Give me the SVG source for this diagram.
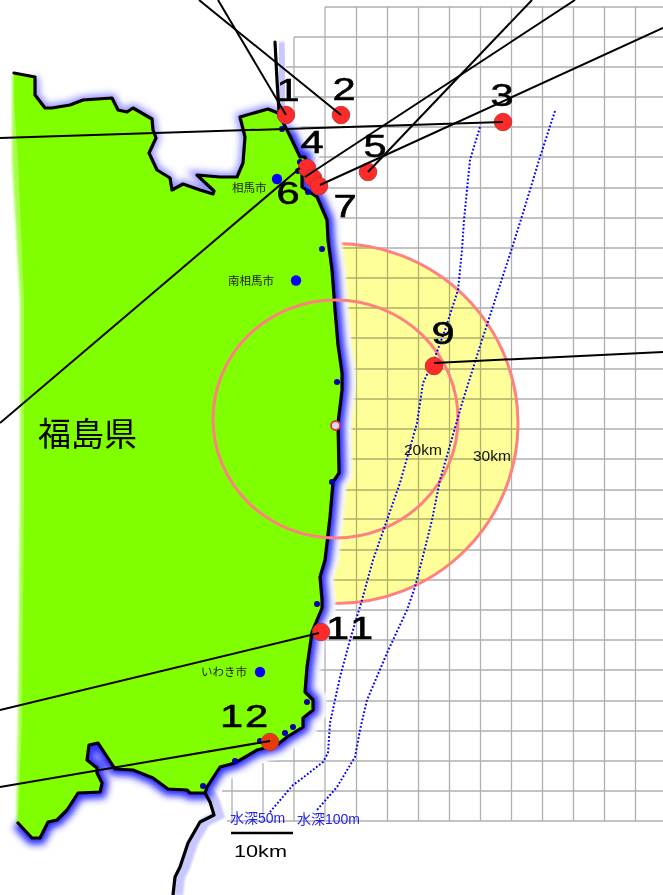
<svg xmlns="http://www.w3.org/2000/svg" xmlns:xlink="http://www.w3.org/1999/xlink" width="663" height="895" viewBox="0 0 663 895">
<style>
.grid{stroke:#b0b0b0;stroke-width:1.3;fill:none}
.coast{fill:none;stroke:#000;stroke-width:3.2;stroke-linejoin:round;stroke-linecap:round}
.depth{fill:none;stroke:#0000ff;stroke-width:2;stroke-dasharray:1.8 2}
.ring{fill:none;stroke:#ff8080;stroke-width:3}
.line{stroke:#000;stroke-width:2;fill:none}
.pt{fill:#ff2a2a;stroke:#a33;stroke-width:.8}
.num{font-family:"Liberation Sans",Arial,sans-serif;font-size:32px;text-anchor:middle;fill:#000;stroke:#000;stroke-width:.6}
.dot{fill:#0000aa}
.city{fill:#0000ff}
.cn{font-family:"Noto Sans CJK JP",sans-serif;font-size:11.5px;fill:#222}
.km{font-family:"Liberation Sans",Arial,sans-serif;font-size:15.500px;fill:#111}
.dl{font-family:"Liberation Sans","Noto Sans CJK JP",sans-serif;font-size:14px;fill:#2222ee}
</style>
<defs>
<filter id="b4" x="-20%" y="-20%" width="140%" height="140%"><feGaussianBlur stdDeviation="3.500"/></filter>
<filter id="b1" x="-20%" y="-20%" width="140%" height="140%"><feGaussianBlur stdDeviation="1.2"/></filter>
<path id="coastnorth" d="M35,77 L35,95 L45,108 L52,108 L70,105 L83,100 L112,98 L118,110 L127,112 L133,108 L152,119 L153,130 L156,138 L149,153 L157,170 L170,178 L172,190 L183,184 L200,190 L213,194 L214,191 L197,175 L220,177 L237,177 L243,163 L245,137 L240,117 L268,109 L278,113 L287,130"/>
<path id="coasteast" d="M287,130 L300,157 L305,157 L306,162 L302,173 L302,187 L317,197 L327,220 L328,240 L332,270 L335,310 L338,345 L342,373 L342,390 L338,423 L339,473 L333,482 L330,517 L325,560 L320,577 L322,600 L322,608 L312,632 L307,667 L305,692 L313,700 L313,710 L303,718 L303,727 L287,737 L277,745 L257,750 L235,763 L220,767 L207,787 L205,793 L200,793 L190,793 L187,790 L168,789 L153,778 L133,770 L115,769 L98,743 L89,745 L87,760 L97,768 L97,773 L102,783 L100,792 L78,793 L67,810 L57,820 L48,822 L40,838 L32,838 L18,823"/>
<path id="coastline" d="M14,73 L35,77 L35,95 L45,108 L52,108 L70,105 L83,100 L112,98 L118,110 L127,112 L133,108 L152,119 L153,130 L156,138 L149,153 L157,170 L170,178 L172,190 L183,184 L200,190 L213,194 L214,191 L197,175 L220,177 L237,177 L243,163 L245,137 L240,117 L268,109 L278,113 L287,130 L300,157 L305,157 L306,162 L302,173 L302,187 L317,197 L327,220 L328,240 L332,270 L335,310 L338,345 L342,373 L342,390 L338,423 L339,473 L333,482 L330,517 L325,560 L320,577 L322,600 L322,608 L312,632 L307,667 L305,692 L313,700 L313,710 L303,718 L303,727 L287,737 L277,745 L257,750 L235,763 L220,767 L207,787 L205,793 L200,793 L190,793 L187,790 L168,789 L153,778 L133,770 L115,769 L98,743 L89,745 L87,760 L97,768 L97,773 L102,783 L100,792 L78,793 L67,810 L57,820 L48,822 L40,838 L32,838 L18,823"/>
<path id="northcape" d="M275,42 L277,80 L279,112"/>
<path id="southcoast" d="M205,793 L210,802 L214,815 L200,822 L188,843 L180,867 L175,877 L173,895"/>
</defs>
<rect width="663" height="895" fill="#fff"/>
<g id="grid" class="grid">
<path d="M325,7H663M294,37H663M286,67H663M294,97H663M294,127H663M294,157H663M294,188H663M294,218H663M294,248H663M294,278H663M294,308H663M294,338H663M294,369H663M294,399H663M294,429H663M294,459H663M294,490H663M294,519H663M294,550H663M294,580H663M294,610H663M294,640H663M294,670H663M294,701H663M294,731H663M267,761H663M222,791H663M227,821H663"/>
<path d="M232,778V821M263,763V821M294,37V821M325,7V821M356.500,7V821M387.500,7V821M418.500,7V821M449.500,7V821M480.500,7V821M511.500,7V821M542.500,7V821M573.500,7V821M604.500,7V821M635.500,7V821"/>
</g>
<g id="zone-30km">
<ellipse cx="336" cy="423.500" rx="182" ry="180" fill="#ffff99" style="mix-blend-mode:multiply"/>
<ellipse class="ring" cx="336" cy="423.500" rx="182" ry="180"/>
</g>
<g id="glow">
<use xlink:href="#coastline" href="#coastline" fill="none" stroke="#fff" stroke-width="27" filter="url(#b1)"/>
<use xlink:href="#northcape" href="#northcape" transform="translate(5,0)" fill="none" stroke="#c8c8ff" stroke-width="10" filter="url(#b1)"/>
<use xlink:href="#southcoast" href="#southcoast" transform="translate(5,0)" fill="none" stroke="#c8c8ff" stroke-width="10" filter="url(#b1)"/>
<use xlink:href="#coastnorth" href="#coastnorth" fill="none" stroke="#2a2aff" stroke-width="8" opacity=".55" filter="url(#b4)"/>
<use xlink:href="#coasteast" href="#coasteast" fill="none" stroke="#2a2aff" stroke-width="13" filter="url(#b4)"/>
</g>
<g id="land">
<path d="M12,75 L12,160 L20,300 L20,500 L18,720 L16,825 L26,825 L28,500 L28,300 L22,75Z" fill="#80ff00" opacity=".7" filter="url(#b1)"/>
<path d="M14,73 L35,77 L35,95 L45,108 L52,108 L70,105 L83,100 L112,98 L118,110 L127,112 L133,108 L152,119 L153,130 L156,138 L149,153 L157,170 L170,178 L172,190 L183,184 L200,190 L213,194 L214,191 L197,175 L220,177 L237,177 L243,163 L245,137 L240,117 L268,109 L278,113 L287,130 L300,157 L305,157 L306,162 L302,173 L302,187 L317,197 L327,220 L328,240 L332,270 L335,310 L338,345 L342,373 L342,390 L338,423 L339,473 L333,482 L330,517 L325,560 L320,577 L322,600 L322,608 L312,632 L307,667 L305,692 L313,700 L313,710 L303,718 L303,727 L287,737 L277,745 L257,750 L235,763 L220,767 L207,787 L205,793 L200,793 L190,793 L187,790 L168,789 L153,778 L133,770 L115,769 L98,743 L89,745 L87,760 L97,768 L97,773 L102,783 L100,792 L78,793 L67,810 L57,820 L48,822 L40,838 L32,838 L18,823 L22,720 L24,500 L24,300 L18,160 L14,100Z" fill="#80ff00"/>
<use xlink:href="#coastline" href="#coastline" class="coast"/>
<use xlink:href="#northcape" href="#northcape" class="coast"/>
<use xlink:href="#southcoast" href="#southcoast" class="coast"/>
</g>
<ellipse id="zone-20km" class="ring" cx="335.500" cy="419" rx="122.500" ry="119"/>
<g id="depth-contours">
<path class="depth" d="M480,127 L470,160 L464,220 L462,250 L458,290 L445,330 L434,360 L423,383 L417,423 L400,483 L387,520 L373,560 L362,600 L350,640 L340,677 L330,723 L328,753 L323,762 L300,780 L293,785 L270,812"/>
<path class="depth" d="M555,111 L540,157 L523,213 L512,248 L482,340 L463,400 L440,480 L432,520 L422,560 L415,587 L407,610 L387,653 L367,700 L360,730 L355,757 L337,787 L317,810"/>
</g>
<g id="small-dots" class="dot">
<circle cx="282" cy="129" r="3"/><circle cx="300" cy="162" r="3"/><circle cx="298" cy="171" r="3"/><circle cx="308" cy="192" r="3"/><circle cx="322" cy="249" r="3"/><circle cx="337" cy="382" r="3"/><circle cx="332" cy="482" r="3"/><circle cx="317" cy="604" r="3"/><circle cx="307" cy="702" r="3"/><circle cx="293" cy="727" r="3"/><circle cx="285" cy="733" r="3"/><circle cx="260" cy="741" r="3"/><circle cx="235" cy="761" r="3"/><circle cx="203" cy="786" r="3"/>
</g>
<g id="cities">
<g id="city-soma"><circle class="city" cx="277" cy="179" r="5.200"/><text class="cn" x="232" y="192">相馬市</text></g>
<g id="city-minamisoma"><circle class="city" cx="296" cy="280.500" r="5.200"/><text class="cn" x="228" y="285">南相馬市</text></g>
<g id="city-iwaki"><circle class="city" cx="260" cy="672" r="5.200"/><text class="cn" x="201" y="676">いわき市</text></g>
</g>
<g id="plant"><circle cx="335.500" cy="425.500" r="4.500" fill="#ddd" stroke="#e0305a" stroke-width="1.800"/></g>
<g id="markers">
<g id="m1"><circle class="pt" cx="286" cy="115" r="8.800"/></g>
<g id="m2"><circle class="pt" cx="341" cy="115" r="8.800"/></g>
<g id="m3"><circle class="pt" cx="503" cy="122" r="8.800"/></g>
<g id="m5"><circle class="pt" cx="368" cy="172" r="8.800"/></g>
<g id="m4"><circle class="pt" cx="307" cy="168" r="8.800"/></g>
<g id="m6"><circle class="pt" cx="313" cy="178" r="8.800"/></g>
<g id="m7"><circle class="pt" cx="319" cy="186" r="8.800"/></g>
<g id="m9"><circle class="pt" cx="434" cy="366" r="8.800"/></g>
<g id="m11"><circle class="pt" cx="321" cy="632" r="8.800"/></g>
<g id="m12"><circle class="pt" cx="270" cy="742" r="8.800" style="fill:#e83a10"/></g>
</g>
<g id="connectors" class="line">
<path d="M286,115L218,0"/><path d="M341,115L199,0"/><path d="M503,122L0,138"/><path d="M368,172L532,0"/><path d="M300,168L0,423"/><path d="M305,177L575,0"/><path d="M320,185L663,28"/><path d="M434,363L663,352"/><path d="M319,633L0,710"/><path d="M270,741L0,787"/>
</g>
<g id="labels">
<text class="num" transform="translate(288,101) scale(1.3,1)">1</text>
<text class="num" transform="translate(344,100) scale(1.3,1)">2</text>
<text class="num" transform="translate(502,106) scale(1.3,1)">3</text>
<text class="num" transform="translate(312,153) scale(1.3,1)">4</text>
<text class="num" transform="translate(375,157) scale(1.3,1)">5</text>
<text class="num" transform="translate(288,204) scale(1.3,1)">6</text>
<text class="num" transform="translate(345,217) scale(1.3,1)">7</text>
<text class="num" transform="translate(443,344) scale(1.3,1)">9</text>
<text class="num" letter-spacing="3" transform="translate(351.500,639) scale(1.3,1)">11</text>
<text class="num" letter-spacing="1.500" transform="translate(245,727) scale(1.3,1)">12</text>
<text x="38" y="446" font-family="'Noto Sans CJK JP',sans-serif" font-size="33" fill="#000">福島県</text>
<text class="km" x="404" y="455">20km</text>
<text class="km" x="473" y="461">30km</text>
<text class="dl" x="230" y="823">水深50m</text>
<text class="dl" x="297" y="824">水深100m</text>
<text x="234" y="857" font-family="'Liberation Sans',Arial,sans-serif" font-size="17" textLength="53" lengthAdjust="spacingAndGlyphs" fill="#000">10km</text>
</g>
<path id="scale-bar" d="M231,833H293" stroke="#000" stroke-width="2.500" fill="none"/>
</svg>
